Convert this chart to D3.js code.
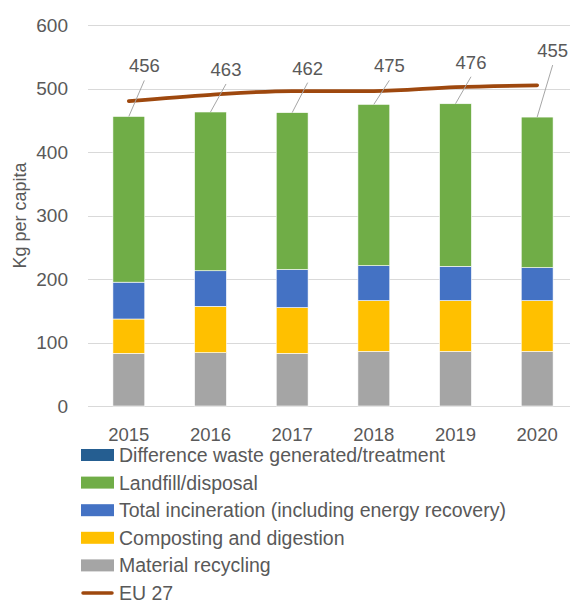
<!DOCTYPE html>
<html>
<head>
<meta charset="utf-8">
<script src="https://cdn.jsdelivr.net/npm/d3@7"></script>
<style>
  body { margin: 0; background: #fff; }
  svg { display: block; font-family: "Liberation Sans", Arial, sans-serif; }
  .grid line { stroke: #d9d9d9; stroke-width: 1; }
  .tick-label, .year-label, .axis-title, .legend text, .total-label { fill: #595959; }
</style>
</head>
<body>
<div class="chart"></div>
<script>
// data
const years = ["2015", "2016", "2017", "2018", "2019", "2020"];
const recycling   = [83, 84, 83, 86, 86, 86];
const composting  = [54, 73, 72, 80, 80, 80];
const incineration = [58, 56, 60, 55, 54, 52];
const landfill    = [261, 250, 247, 254, 256, 237];
const difference  = [0, 0, 0, 0, 0, 0];
const totals      = [456, 463, 462, 475, 476, 455];
const eu27        = [480, 490, 496, 496, 502, 505];
const yTicks      = [0, 100, 200, 300, 400, 500, 600];

const series = [
    { key: "recycling", name: "Material recycling", values: recycling, color: "#a5a5a5" },
    { key: "composting", name: "Composting and digestion", values: composting, color: "#ffc000" },
    { key: "incineration", name: "Total incineration (including energy recovery)", values: incineration, color: "#4472c4" },
    { key: "landfill", name: "Landfill/disposal", values: landfill, color: "#70ad47" },
    { key: "difference", name: "Difference waste generated/treatment", values: difference, color: "#255e91" }
];

const width = 570, height = 601;
const margin = { left: 88, right: -8, top: 25, bottom: 195 };

const svg = d3.select(".chart").append("svg")
    .attr("width", width)
    .attr("height", height);

const x = d3.scaleBand()
    .domain(years)
    .range([margin.left, width - margin.right])
    .paddingInner(0.61)
    .paddingOuter(0.305);

const y = d3.scaleLinear()
    .domain([0, 600])
    .range([height - margin.bottom, margin.top]);

// gridlines
svg.append("g").attr("class", "grid")
    .selectAll("line")
    .data(yTicks)
    .enter().append("line")
    .attr("x1", margin.left)
    .attr("x2", width - margin.right)
    .attr("y1", d => Math.round(y(d)) + 0.5)
    .attr("y2", d => Math.round(y(d)) + 0.5);

svg.append("g")
    .selectAll("text")
    .data(yTicks)
    .enter().append("text")
    .attr("class", "tick-label")
    .attr("x", 68)
    .attr("y", d => y(d))
    .attr("dy", "0.36em")
    .attr("text-anchor", "end")
    .style("font-size", "19px")
    .text(d => d);

svg.append("text")
    .attr("class", "axis-title")
    .attr("transform", `translate(26, ${y(300)}) rotate(-90)`)
    .attr("text-anchor", "middle")
    .style("font-size", "18px")
    .text("Kg per capita");

// stacked bars
const rows = years.map((yr, i) => {
    const row = { year: yr };
    series.forEach(s => row[s.key] = s.values[i]);
    return row;
});
const stack = d3.stack().keys(series.map(s => s.key));
const stacked = stack(rows);

svg.append("g")
    .selectAll("g")
    .data(stacked)
    .enter().append("g")
    .attr("fill", (d, i) => series[i].color)
    .selectAll("rect")
    .data(d => d)
    .enter().append("rect")
    .attr("x", d => x(d.data.year))
    .attr("width", x.bandwidth())
    .attr("y", d => y(d[1]))
    .attr("height", d => y(d[0]) - y(d[1]))
    .attr("stroke", "#ffffff")
    .attr("stroke-width", 0.6);

// year labels
svg.append("g")
    .selectAll("text")
    .data(years)
    .enter().append("text")
    .attr("class", "year-label")
    .attr("x", d => x(d) + x.bandwidth() / 2)
    .attr("y", 441)
    .attr("text-anchor", "middle")
    .style("font-size", "18.5px")
    .text(d => d);

// EU 27 line
const line = d3.line()
    .x((d, i) => x(years[i]) + x.bandwidth() / 2)
    .y(d => y(d))
    .curve(d3.curveMonotoneX);

svg.append("path")
    .datum(eu27)
    .attr("d", line)
    .attr("fill", "none")
    .attr("stroke", "#9e480e")
    .attr("stroke-width", 3.75)
    .attr("stroke-linecap", "round");

// total labels with leader lines (label lift in px above bar top, dragged by hand in the original)
const labelLift = [44, 36, 38, 32, 35, 60];
const labelShift = 15.5;
const labels = svg.append("g");
totals.forEach((t, i) => {
    const cx = x(years[i]) + x.bandwidth() / 2;
    const top = y(t);
    const base = top - labelLift[i];
    labels.append("line")
        .attr("x1", cx + labelShift)
        .attr("y1", base + 8)
        .attr("x2", cx)
        .attr("y2", top)
        .attr("stroke", "#a6a6a6")
        .attr("stroke-width", 1);
    labels.append("text")
        .attr("class", "total-label")
        .attr("x", cx + labelShift)
        .attr("y", base)
        .attr("text-anchor", "middle")
        .style("font-size", "18.5px")
        .text(t);
});

// legend
const legendItems = series.slice().reverse().concat([{ name: "EU 27", color: "#9e480e", isLine: true }]);
const legend = svg.append("g").attr("class", "legend");
legendItems.forEach((d, i) => {
    const cy = 455 + i * 27.6;
    if (d.isLine) {
        legend.append("line")
            .attr("x1", 83).attr("x2", 112)
            .attr("y1", cy).attr("y2", cy)
            .attr("stroke", d.color)
            .attr("stroke-width", 3.5)
            .attr("stroke-linecap", "round");
    } else {
        legend.append("rect")
            .attr("x", 81).attr("y", cy - 6)
            .attr("width", 33).attr("height", 12)
            .attr("fill", d.color);
    }
    legend.append("text")
        .attr("x", 119)
        .attr("y", cy)
        .attr("dy", "0.36em")
        .style("font-size", "19.5px")
        .text(d.name);
});
</script>
</body>
</html>
